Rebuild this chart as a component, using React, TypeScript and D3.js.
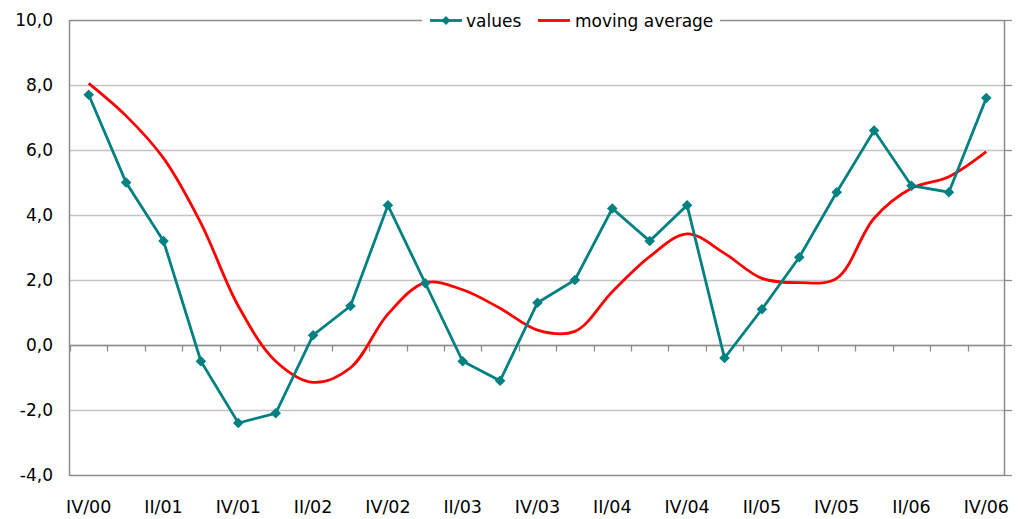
import React, { useEffect, useRef } from "react";
import * as d3 from "d3";

const quarters = [
  "IV/00", "I/01", "II/01", "III/01", "IV/01", "I/02", "II/02", "III/02", "IV/02",
  "I/03", "II/03", "III/03", "IV/03", "I/04", "II/04", "III/04", "IV/04",
  "I/05", "II/05", "III/05", "IV/05", "I/06", "II/06", "III/06", "IV/06",
];

const values = [
  7.7, 5.0, 3.2, -0.5, -2.4, -2.1, 0.3, 1.2, 4.3, 1.9, -0.5, -1.1, 1.3, 2.0,
  4.2, 3.2, 4.3, -0.4, 1.1, 2.7, 4.7, 6.6, 4.9, 4.7, 7.6,
];

const movingAverage = [
  8.05, 7.05, 5.75, 3.75, 1.2, -0.5, -1.15, -0.7, 0.95, 1.92, 1.7, 1.13, 0.46,
  0.42, 1.64, 2.72, 3.42, 2.82, 2.05, 1.92, 2.05, 3.9, 4.82, 5.18, 5.95,
];

const yTicks = [-4, -2, 0, 2, 4, 6, 8, 10];
// only every second quarter gets a label
const shownLabels = quarters.filter((_, i) => i % 2 === 0);

const font = "'DejaVu Sans', Verdana, sans-serif";

const App: React.FC = () => {
  const svgRef: any = useRef();

  useEffect(() => {
    const svg = d3.select(svgRef.current);
    svg.selectAll("*").remove();

    const left = 70;
    const right = 1005;
    const top = 20;
    const bottom = 475;

    const x = d3.scaleBand().domain(quarters).range([left, right]);
    const cx = (q: string) => (x(q) as number) + x.bandwidth() / 2;
    const y = d3.scaleLinear().domain([-4, 10]).range([bottom, top]);

    // grid lines
    yTicks.forEach((t) => {
      svg
        .append("line")
        .attr("x1", left)
        .attr("x2", right)
        .attr("y1", Math.round(y(t)) + 0.5)
        .attr("y2", Math.round(y(t)) + 0.5)
        .attr("stroke", t === 10 || t === -4 ? "#8c8c8c" : "#c4c4c4")
        .attr("stroke-width", 1.3);

      // right axis ticks
      svg
        .append("line")
        .attr("x1", right)
        .attr("x2", right + 7)
        .attr("y1", Math.round(y(t)) + 0.5)
        .attr("y2", Math.round(y(t)) + 0.5)
        .attr("stroke", "#8c8c8c")
        .attr("stroke-width", 1.3);

      svg
        .append("text")
        .attr("x", 53)
        .attr("y", y(t))
        .attr("dy", "0.36em")
        .attr("text-anchor", "end")
        .attr("font-family", font)
        .attr("font-size", "17px")
        .attr("fill", "#000")
        .text(t.toFixed(1).replace(".", ","));
    });

    // left and right axis
    [left, right].forEach((xx) => {
      svg
        .append("line")
        .attr("x1", xx - 0.5)
        .attr("x2", xx - 0.5)
        .attr("y1", top)
        .attr("y2", bottom + 1)
        .attr("stroke", "#8c8c8c")
        .attr("stroke-width", 1.5);
    });

    // category axis at zero
    const y0 = Math.round(y(0)) + 0.5;
    svg
      .append("line")
      .attr("x1", left)
      .attr("x2", right)
      .attr("y1", y0)
      .attr("y2", y0)
      .attr("stroke", "#8c8c8c")
      .attr("stroke-width", 1.5);

    quarters.forEach((q) => {
      const xx = Math.round(x(q) as number) + 0.5;
      svg
        .append("line")
        .attr("x1", xx)
        .attr("x2", xx)
        .attr("y1", y0)
        .attr("y2", y0 + 6)
        .attr("stroke", "#8c8c8c")
        .attr("stroke-width", 1.3);
    });

    shownLabels.forEach((q) => {
      svg
        .append("text")
        .attr("x", cx(q))
        .attr("y", 513)
        .attr("text-anchor", "middle")
        .attr("font-family", font)
        .attr("font-size", "17.5px")
        .attr("fill", "#000")
        .text(q);
    });

    // moving average
    const smooth = d3
      .line<number>()
      .x((_, i) => cx(quarters[i]))
      .y((d) => y(d))
      .curve(d3.curveCatmullRom.alpha(0.5));

    svg
      .append("path")
      .datum(movingAverage)
      .attr("fill", "none")
      .attr("stroke", "#ff0000")
      .attr("stroke-width", 2.8)
      .attr("d", smooth);

    // values
    const straight = d3
      .line<number>()
      .x((_, i) => cx(quarters[i]))
      .y((d) => y(d));

    svg
      .append("path")
      .datum(values)
      .attr("fill", "none")
      .attr("stroke", "#008080")
      .attr("stroke-width", 2.8)
      .attr("d", straight);

    const diamond = d3.symbol(d3.symbolSquare, 56);
    values.forEach((v, i) => {
      svg
        .append("path")
        .attr("d", diamond())
        .attr("transform", `translate(${cx(quarters[i])},${y(v)}) rotate(45)`)
        .attr("fill", "#008080");
    });

    // legend, sitting on the top border
    const lg = svg.append("g");
    lg.append("rect")
      .attr("x", 422)
      .attr("y", 8)
      .attr("width", 298)
      .attr("height", 26)
      .attr("fill", "#fff");

    lg.append("line")
      .attr("x1", 430)
      .attr("x2", 462)
      .attr("y1", 20.5)
      .attr("y2", 20.5)
      .attr("stroke", "#008080")
      .attr("stroke-width", 2.8);
    lg.append("path")
      .attr("d", d3.symbol(d3.symbolSquare, 40)())
      .attr("transform", "translate(446,20.5) rotate(45)")
      .attr("fill", "#008080");
    lg.append("text")
      .attr("x", 466)
      .attr("y", 27)
      .attr("font-family", font)
      .attr("font-size", "17px")
      .text("values");

    lg.append("line")
      .attr("x1", 538)
      .attr("x2", 570)
      .attr("y1", 20.5)
      .attr("y2", 20.5)
      .attr("stroke", "#ff0000")
      .attr("stroke-width", 2.8);
    lg.append("text")
      .attr("x", 575)
      .attr("y", 27)
      .attr("font-family", font)
      .attr("font-size", "17px")
      .text("moving average");
  }, []);

  return (
    <svg
      ref={svgRef}
      width={1029}
      height={519}
      style={{ display: "block", position: "absolute", left: 0, top: 0 }}
    />
  );
};

export default App;
